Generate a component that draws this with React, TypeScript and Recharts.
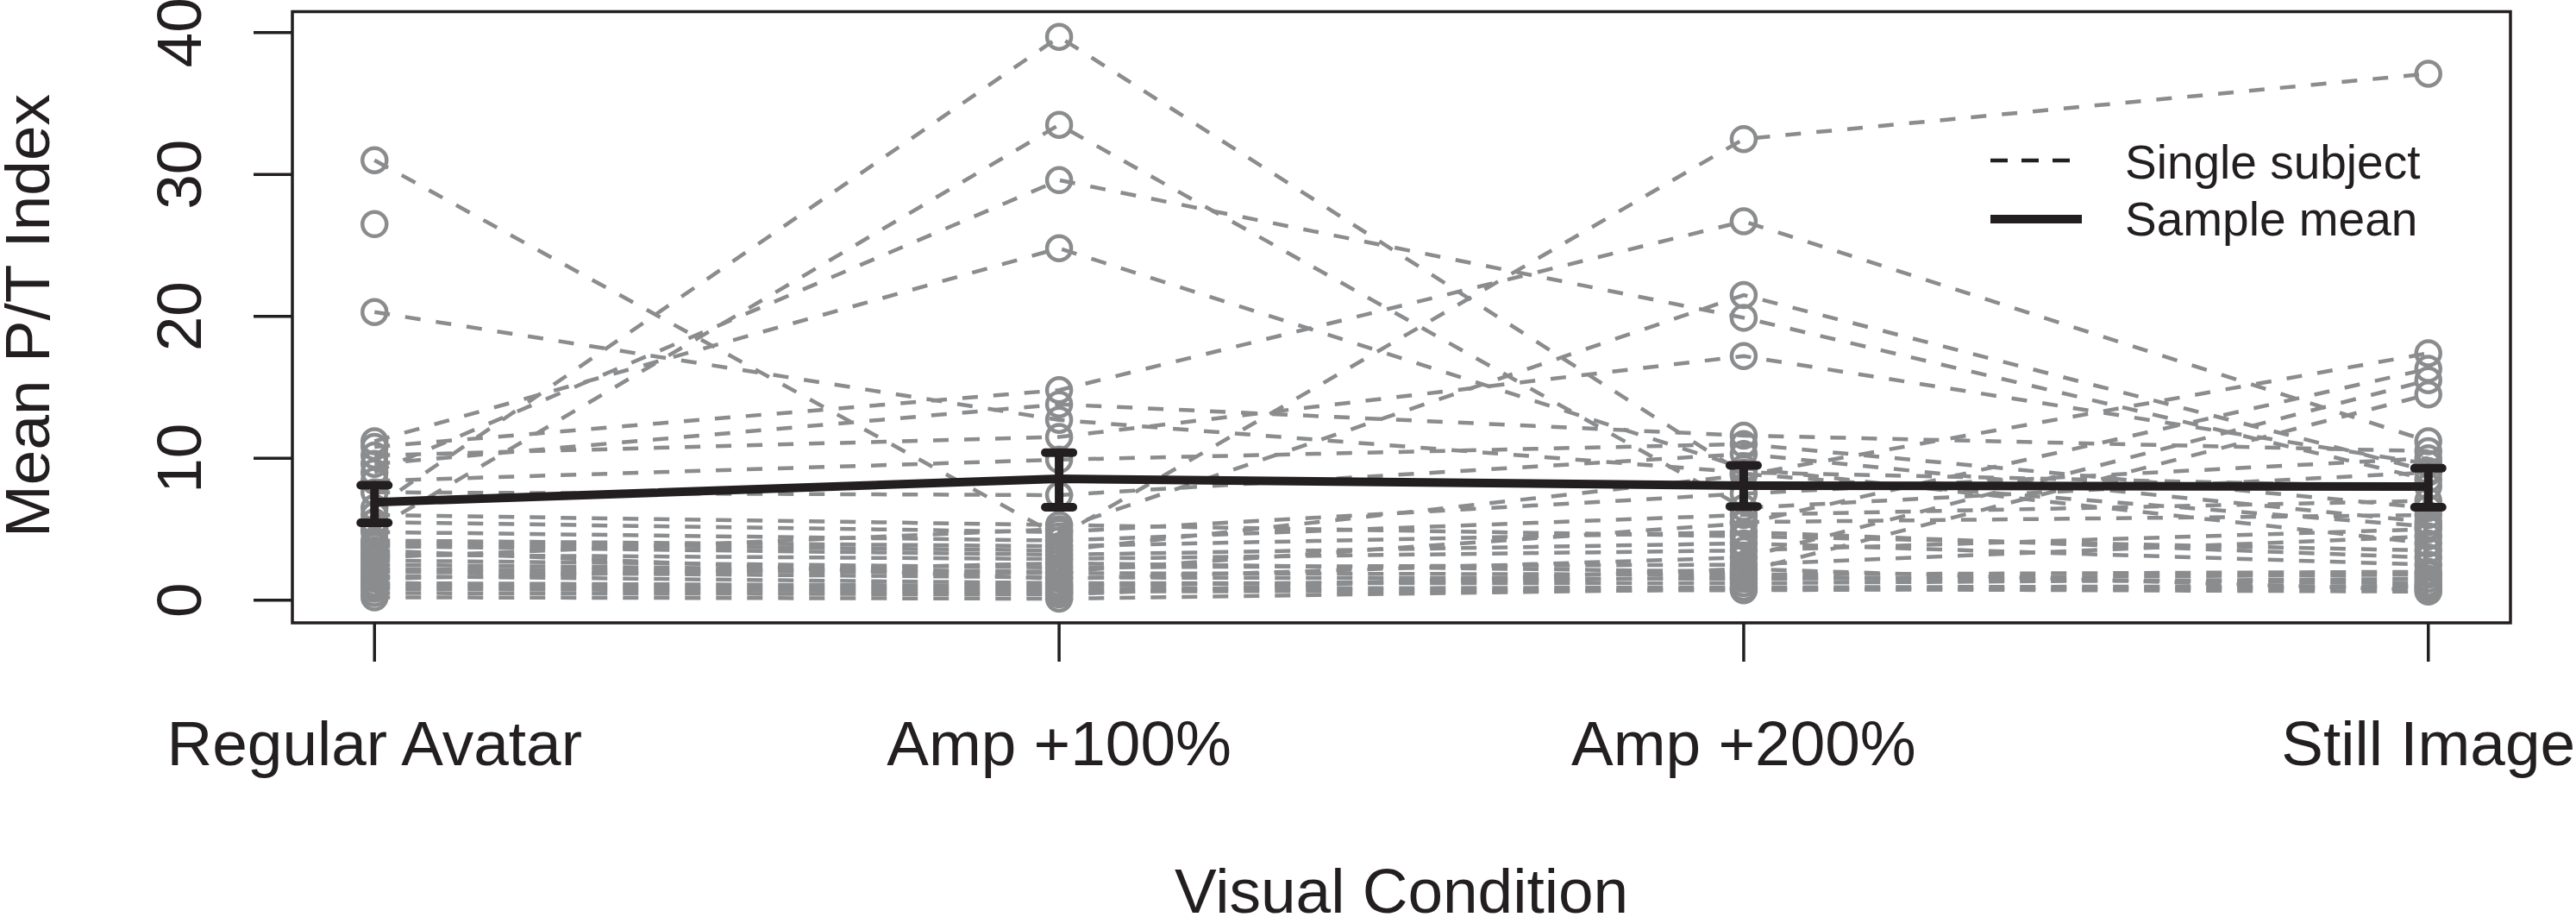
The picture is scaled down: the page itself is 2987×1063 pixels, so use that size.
import { LineChart, Line, XAxis, YAxis, ErrorBar, ReferenceArea, Legend, Label } from 'recharts'

const CONDITIONS = ['Regular Avatar', 'Amp +100%', 'Amp +200%', 'Still Image']
const Y_TICKS = [0, 10, 20, 30, 40]

// one entry per subject, same subject order in every array (null = missing)
const regularAvatar = [
  31.0, 26.5, 20.3, 6.5, 5.0, 9.0, 11.2, 10.8, 10.2, 3.0, 4.0, 2.5, 3.5, 1.5, 9.6, 8.4,
  7.6, 6.0, 5.5, 4.8, 4.2, 3.8, 3.2, 2.8, 2.2, 2.0, 1.7, 1.2, 1.0, 0.8, 0.5, 0.2
]
const amp100 = [
  4.5, null, 12.7, 39.7, 33.5, 29.6, 24.8, 14.8, 11.5, 5.0, 3.5, 2.0, 1.5, 2.6, 13.8, 9.9,
  7.4, 5.3, 4.8, 4.2, 3.8, 3.2, 2.9, 2.3, 1.9, 1.6, 1.2, 1.0, 0.8, 0.6, 0.4, 0.1
]
const amp200 = [
  32.5, 5.5, 9.0, 8.9, 6.5, 19.9, 9.3, 26.7, 17.2, 21.5, 8.8, 5.4, 3.0, 2.0, 11.6, 11.0,
  10.3, 4.5, 7.5, 6.0, 4.8, 4.0, 3.5, 2.5, 1.8, 1.5, 1.2, 1.6, 0.9, 0.7, 2.2, 0.8
]
const stillImage = [
  37.1, 6.0, 8.0, 5.2, 9.0, 8.5, 4.0, 11.2, 9.6, 9.1, 17.4, 16.3, 15.5, 14.5, 10.5, 6.5,
  5.5, 3.5, 10.0, 7.0, 3.0, 2.5, 5.0, 4.5, 2.0, 1.8, 1.5, 1.2, 1.0, 0.9, 0.7, 0.6
]

// sample mean with error bar ends
const meanValues = [6.9, 8.55, 8.07, 8.0]
const meanLower = [5.45, 6.55, 6.6, 6.55]
const meanUpper = [8.1, 10.4, 9.5, 9.3]

const GRAY = '#8b8c8e'
const INK = '#231f20'
const FONT = '"Liberation Sans", Arial, Helvetica, sans-serif'

const columns = [regularAvatar, amp100, amp200, stillImage]
const subjectKeys = regularAvatar.map((_, i) => `s${i}`)

const data = CONDITIONS.map((name, i) => {
  const row: Record<string, any> = {
    pos: i + 1,
    name,
    mean: meanValues[i],
    meanErr: [meanValues[i] - meanLower[i], meanUpper[i] - meanValues[i]]
  }
  columns[i].forEach((v, s) => {
    row[subjectKeys[s]] = v
  })
  return row
})

function XTick({ x, y, payload }: any) {
  return (
    <text x={x} y={y + 120} textAnchor="middle" fontSize={73} fontFamily={FONT} fill={INK}>
      {CONDITIONS[payload.value - 1]}
    </text>
  )
}

function YTick({ x, y, payload }: any) {
  const bx = x - 61
  return (
    <text
      x={bx}
      y={y}
      transform={`rotate(-90 ${bx} ${y})`}
      textAnchor="middle"
      fontSize={73}
      fontFamily={FONT}
      fill={INK}
    >
      {payload.value}
    </text>
  )
}

function LegendBox() {
  return (
    <svg width={620} height={160} style={{ display: 'block' }}>
      <line x1={18} x2={110} y1={46} y2={46} stroke={INK} strokeWidth={4.5} strokeDasharray="20 16" />
      <text x={174} y={67} fontSize={55} fontFamily={FONT} fill={INK}>
        Single subject
      </text>
      <line x1={18} x2={124} y1={114} y2={114} stroke={INK} strokeWidth={10} />
      <text x={174} y={133} fontSize={55} fontFamily={FONT} fill={INK}>
        Sample mean
      </text>
    </svg>
  )
}

export default function App() {
  return (
    <div style={{ position: 'absolute', left: 0, top: 0, width: 2987, height: 1063, background: '#fff' }}>
      <LineChart width={2987} height={1063} data={data} margin={{ top: 13.6, right: 76, bottom: 0, left: 0 }}>
        <XAxis
          dataKey="pos"
          type="number"
          domain={[0.88, 4.12]}
          allowDataOverflow
          ticks={[1, 2, 3, 4]}
          height={341}
          tickSize={45}
          tickMargin={0}
          axisLine={false}
          tickLine={{ stroke: INK, strokeWidth: 3.5 }}
          tick={<XTick />}
          interval={0}
        >
          <Label
            content={() => (
              <text x={1625} y={1058} textAnchor="middle" fontSize={73} fontFamily={FONT} fill={INK}>
                Visual Condition
              </text>
            )}
          />
        </XAxis>
        <YAxis
          type="number"
          domain={[-1.6, 41.47]}
          allowDataOverflow
          ticks={Y_TICKS}
          width={339}
          tickSize={45}
          tickMargin={0}
          axisLine={false}
          tickLine={{ stroke: INK, strokeWidth: 3.5 }}
          tick={<YTick />}
          interval={0}
        >
          <Label
            content={() => (
              <text
                x={57}
                y={366}
                transform="rotate(-90 57 366)"
                textAnchor="middle"
                fontSize={73}
                fontFamily={FONT}
                fill={INK}
              >
                Mean P/T Index
              </text>
            )}
          />
        </YAxis>
        <ReferenceArea
          x1={0.88}
          x2={4.12}
          y1={-1.6}
          y2={41.47}
          fill="none"
          fillOpacity={0}
          stroke={INK}
          strokeWidth={3.5}
          ifOverflow="visible"
        />
        {subjectKeys.map((k) => (
          <Line
            key={k}
            dataKey={k}
            stroke={GRAY}
            strokeWidth={4.5}
            strokeDasharray="18 18"
            dot={{ r: 14, fill: 'none', stroke: GRAY, strokeWidth: 4.5, strokeDasharray: '0' }}
            activeDot={false}
            connectNulls={false}
            isAnimationActive={false}
          />
        ))}
        <Line
          dataKey="mean"
          stroke={INK}
          strokeWidth={10}
          dot={false}
          activeDot={false}
          isAnimationActive={false}
          zIndex={2000}
        >
          <ErrorBar
            dataKey="meanErr"
            width={16}
            stroke={INK}
            strokeWidth={10}
            strokeLinecap="round"
            isAnimationActive={false}
            zIndex={2100}
          />
        </Line>
        <Legend
          layout="horizontal"
          verticalAlign="middle"
          align="center"
          content={() => <LegendBox />}
          wrapperStyle={{ position: 'absolute', left: 2290, top: 140, width: 620, height: 160 }}
        />
      </LineChart>
    </div>
  )
}
